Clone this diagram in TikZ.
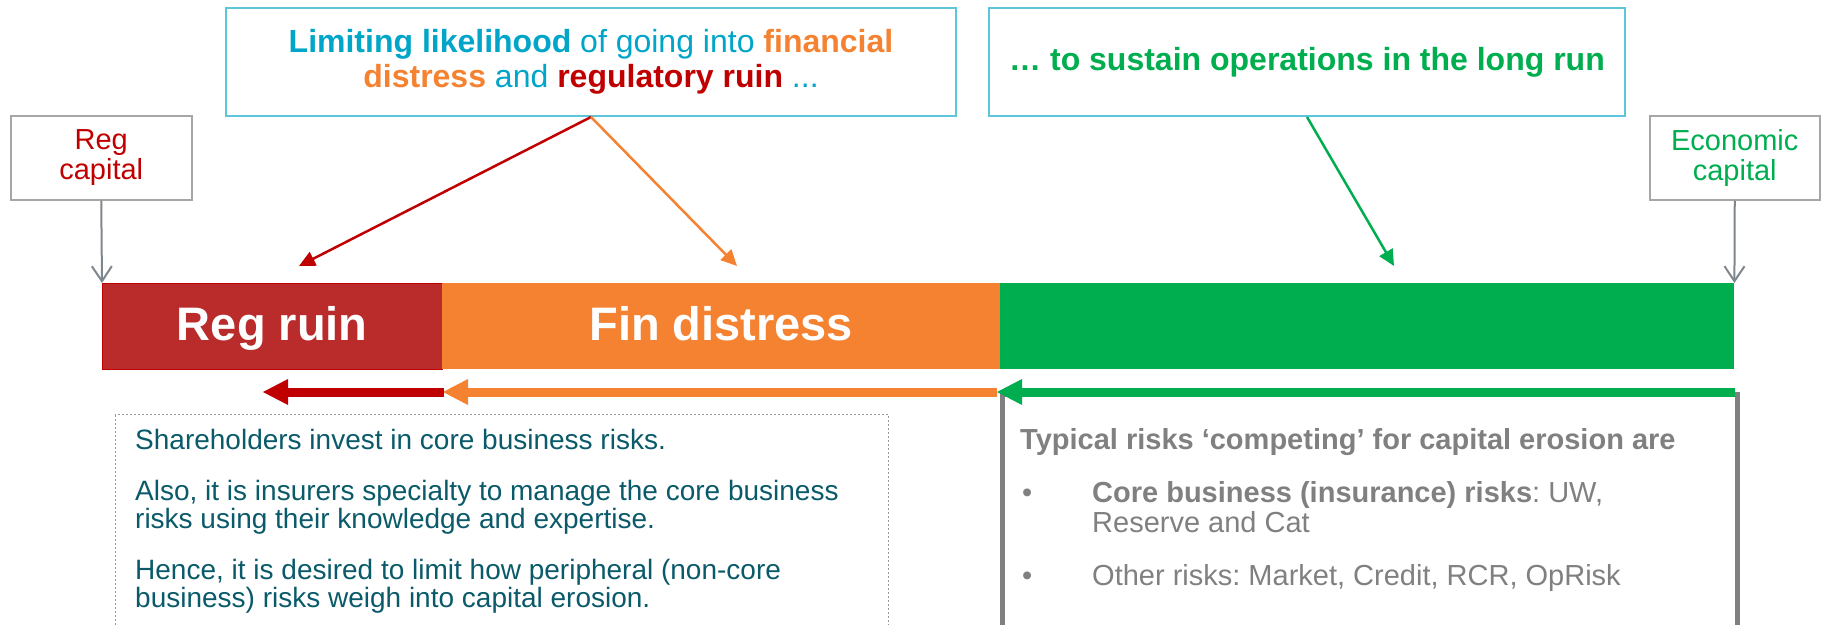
\documentclass[tikz,border=0pt]{standalone}
\usepackage{fontspec}
\setmainfont{Liberation Sans}
\usetikzlibrary{arrows.meta}

\definecolor{regred}{HTML}{C00000}
\definecolor{barred}{HTML}{BA2C2C}
\definecolor{finorange}{HTML}{F58231}
\definecolor{ecogreen}{HTML}{00AD4F}
\definecolor{tealtext}{HTML}{0A5A6A}
\definecolor{cyantext}{HTML}{00A5C8}
\definecolor{cyanline}{HTML}{5DC6DA}
\definecolor{greytext}{HTML}{808080}
\definecolor{capline}{HTML}{A6A6A6}
\definecolor{pointgrey}{HTML}{7F868C}

\frenchspacing
\begin{document}
\begin{tikzpicture}[x=1pt,y=-1pt,
  capbox/.style={draw=capline, line width=1.5pt, minimum height=84pt, inner sep=0pt,
    align=center, anchor=north west, font=\fontsize{29}{30}\selectfont},
  msgbox/.style={draw=cyanline, line width=2pt, minimum height=108pt, inner sep=0pt,
    align=center, anchor=north west, font=\fontsize{32}{35}\selectfont},
  band/.style={minimum height=86pt, inner sep=0pt, anchor=north west, text=white,
    text height=33pt, text depth=5pt, font=\fontsize{47}{50}\selectfont\bfseries},
  pointer/.style={draw=pointgrey, line width=2pt, -{Straight Barb[length=15pt,width=20pt]}},
  hint/.style={line width=2.5pt, -{Triangle[length=16pt,width=15pt]}},
  erosion/.style={line width=9pt, -{Triangle[length=25pt,width=26pt,line width=0pt]}},
  note/.style={anchor=base west, inner sep=0pt, font=\fontsize{28}{28}\selectfont, text=tealtext},
  risk/.style={anchor=base west, inner sep=0pt, font=\fontsize{29}{31}\selectfont, text=greytext}]
  \useasboundingbox (0,0) rectangle (1822,624);

  % message boxes on top
  \node[msgbox, minimum width=730pt] (limit) at (225,7)
    {{\color{cyantext}\bfseries Limiting likelihood} {\color{cyantext}of going into} {\color{finorange}\bfseries financial}\\
     {\color{finorange}\bfseries distress} {\color{cyantext}and} {\color{regred}\bfseries regulatory ruin} {\color{cyantext}...}};
  \node[msgbox, minimum width=636pt, text=ecogreen, font=\fontsize{32}{35}\selectfont\bfseries] (sustain) at (988,7)
    {… to sustain operations in the long run};

  % capital levels
  \node[capbox, minimum width=181pt, text=regred] (regcap) at (10,115) {Reg\\capital};
  \node[capbox, minimum width=170pt, text=ecogreen] (ecocap) at (1649,115) {Economic\\capital};

  % the capital band
  \node[band, fill=barred, draw=regred, line width=0.5pt, minimum width=340pt] (regruin) at (102,283) {Reg ruin};
  \node[band, fill=finorange, minimum width=558pt] (findist) at (442,283) {Fin distress};
  \node[band, fill=ecogreen, minimum width=734pt] (longrun) at (1000,283) {};

  \draw[pointer] (regcap.south) -- (regruin.north west);
  \draw[pointer] (ecocap.south) -- (longrun.north east);

  \coordinate (ruintip) at (299,266);
  \coordinate (disttip) at (737,266);
  \coordinate (runtip) at (1394,266);
  \draw[hint, regred] (limit.south) -- (ruintip);
  \draw[hint, finorange] (limit.south) -- (disttip);
  \draw[hint, ecogreen] (sustain.south) -- (runtip);

  % explanation boxes below
  \node[draw=greytext!80, dash pattern=on 2pt off 2pt, line width=1pt, minimum width=773pt,
    minimum height=230pt, anchor=north west] (why) at (115,414) {};
  \node[draw=greytext, line width=5pt, minimum width=735pt, minimum height=233pt,
    anchor=north west, inner sep=0pt] (compete) at (1000,392) {};

  % erosion arrows
  \coordinate (ruinend) at (263,392);
  \coordinate (distend) at (443,392);
  \coordinate (runend) at (997,392);
  \coordinate (runstart) at (1735,392);
  \draw[erosion, finorange] (runend) -- (distend);
  \draw[erosion, regred] (444,392) -- (ruinend);
  \draw[erosion, ecogreen] (runstart) -- (runend);

  \node[note] (n1) at (135,449) {Shareholders invest in core business risks.};
  \node[note] (n2) at (135,500) {Also, it is insurers specialty to manage the core business};
  \node[note] (n3) at (135,528) {risks using their knowledge and expertise.};
  \node[note] (n4) at (135,579) {Hence, it is desired to limit how peripheral (non-core};
  \node[note] (n5) at (135,607) {business) risks weigh into capital erosion.};

  \node[risk, font=\fontsize{29}{31}\selectfont\bfseries] (r0) at (1020,449) {Typical risks ‘competing’ for capital erosion are};
  \node[risk] (b1) at (1022,502) {•};
  \node[risk] (r1) at (1092,502) {\textbf{Core business (insurance) risks}: UW,};
  \node[risk] (r2) at (1092,532) {Reserve and Cat};
  \node[risk] (b2) at (1022,585) {•};
  \node[risk] (r3) at (1092,585) {Other risks: Market, Credit, RCR, OpRisk};
\end{tikzpicture}
\end{document}
